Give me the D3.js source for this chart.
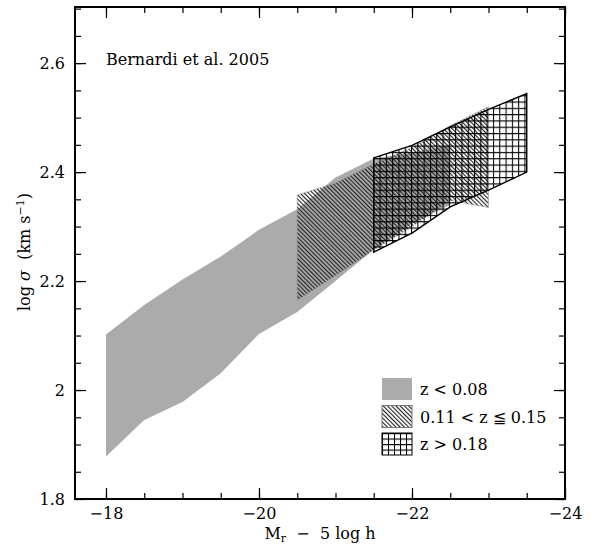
<!DOCTYPE html>
<html>
<head>
<meta charset="utf-8">
<script src="https://cdn.jsdelivr.net/npm/d3@7"></script>
<style>
  body { margin: 0; background: #fff; }
  text { font-family: "DejaVu Serif", serif; fill: #000; }
</style>
</head>
<body>
<div id="chart"></div>
<script>
/************************************************************
 * DATA
 ************************************************************/
// z < 0.08 band
var lowZMag   = [-18, -18.5, -19, -19.5, -20, -20.5, -21, -21.5, -22, -22.5];
var lowZUpper = [2.102, 2.156, 2.203, 2.245, 2.294, 2.332, 2.39, 2.425, 2.435, 2.45];
var lowZLower = [1.878, 1.945, 1.978, 2.031, 2.103, 2.143, 2.2, 2.258, 2.305, 2.34];

// 0.11 < z <= 0.15 band
var midZMag   = [-20.5, -21, -21.5, -22, -22.5, -23];
var midZUpper = [2.358, 2.38, 2.415, 2.445, 2.485, 2.52];
var midZLower = [2.165, 2.21, 2.257, 2.3, 2.348, 2.335];

// z > 0.18 band
var highZMag   = [-21.5, -22, -22.5, -23, -23.5];
var highZUpper = [2.426, 2.449, 2.483, 2.515, 2.544];
var highZLower = [2.253, 2.288, 2.336, 2.367, 2.400];

var xMajorTicks = [-18, -20, -22, -24];
var yMajorTicks = [1.8, 2, 2.2, 2.4, 2.6];
var NB = "\u00a0";
var legendLabels = ["z" + NB + "<" + NB + "0.08", "0.11" + NB + "<" + NB + "z" + NB + "\u2266" + NB + "0.15", "z" + NB + ">" + NB + "0.18"];

/************************************************************
 * SETUP
 ************************************************************/
var width = 592, height = 544;
var margin = {top: 7, right: 27, bottom: 45, left: 75};
var plotW = width - margin.left - margin.right,
    plotH = height - margin.top - margin.bottom;

var svg = d3.select("#chart").append("svg")
    .attr("width", width)
    .attr("height", height);

var x = d3.scaleLinear().domain([-17.595, -24]).range([0, plotW]);
var y = d3.scaleLinear().domain([1.8, 2.703]).range([plotH, 0]);

var defs = svg.append("defs");

// diagonal hatch for the middle band
var hatch = defs.append("pattern")
    .attr("id", "hatch")
    .attr("patternUnits", "userSpaceOnUse")
    .attr("width", 3).attr("height", 3)
    .attr("patternTransform", "rotate(-45)");
hatch.append("line")
    .attr("x1", 0.5).attr("y1", 0).attr("x2", 0.5).attr("y2", 3)
    .attr("stroke", "#222").attr("stroke-width", 1.25);

// square grid for the high z band
var grid = defs.append("pattern")
    .attr("id", "grid")
    .attr("patternUnits", "userSpaceOnUse")
    .attr("width", 6.3).attr("height", 6.3)
    .attr("x", x(-21.5) - 0.5).attr("y", 0);
grid.append("path")
    .attr("d", "M0.5,0V6.3M0,0.5H6.3")
    .attr("stroke", "#000").attr("stroke-width", 1.1).attr("fill", "none");

// legend swatch grid, aligned to its own box
var gridLeg = defs.append("pattern")
    .attr("id", "gridLeg")
    .attr("patternUnits", "userSpaceOnUse")
    .attr("width", 6).attr("height", 5.5);
gridLeg.append("path")
    .attr("d", "M0.5,0V5.5M0,0.5H6")
    .attr("stroke", "#000").attr("stroke-width", 1.1).attr("fill", "none");

var g = svg.append("g")
    .attr("transform", "translate(" + [margin.left, margin.top] + ")");

/************************************************************
 * BANDS
 ************************************************************/
function band(mags, upper, lower) {
    var pts = mags.map(function(m, i) { return {m: m, hi: upper[i], lo: lower[i]}; });
    return d3.area()
        .x(function(d) { return x(d.m); })
        .y0(function(d) { return y(d.lo); })
        .y1(function(d) { return y(d.hi); })(pts);
}

g.append("path")
    .attr("d", band(lowZMag, lowZUpper, lowZLower))
    .attr("fill", "#ababab");

g.append("path")
    .attr("d", band(midZMag, midZUpper, midZLower))
    .attr("fill", "url(#hatch)")
    .attr("stroke", "#888").attr("stroke-width", 0.5);

g.append("path")
    .attr("d", band(highZMag, highZUpper, highZLower))
    .attr("fill", "url(#grid)")
    .attr("stroke", "#000").attr("stroke-width", 1.4);

/************************************************************
 * AXES (ticks point inward on all four sides)
 ************************************************************/
var xMinor = d3.range(-18, -24.01, -0.5);
var yMinor = d3.range(1.8, 2.701, 0.05);
var fmt = d3.format("~g");

function styleAxis(sel) {
    sel.select(".domain").remove();
    sel.selectAll("line").attr("stroke", "#000").attr("stroke-width", 1.2);
    sel.selectAll("text")
        .attr("font-family", "DejaVu Serif, serif")
        .attr("font-size", 16)
        .attr("fill", "#000");
}

// bottom
g.append("g").attr("transform", "translate(0," + plotH + ")")
    .call(d3.axisBottom(x).tickValues(xMinor).tickSize(-6).tickFormat(""))
    .call(styleAxis);
g.append("g").attr("transform", "translate(0," + plotH + ")")
    .call(d3.axisBottom(x).tickValues(xMajorTicks).tickSize(-11).tickPadding(9).tickFormat(fmt))
    .call(styleAxis);
// top
g.append("g")
    .call(d3.axisTop(x).tickValues(xMinor).tickSize(-6).tickFormat(""))
    .call(styleAxis);
g.append("g")
    .call(d3.axisTop(x).tickValues(xMajorTicks).tickSize(-11).tickFormat(""))
    .call(styleAxis);
// left
g.append("g")
    .call(d3.axisLeft(y).tickValues(yMinor).tickSize(-6).tickFormat(""))
    .call(styleAxis);
g.append("g")
    .call(d3.axisLeft(y).tickValues(yMajorTicks).tickSize(-11).tickPadding(10).tickFormat(fmt))
    .call(styleAxis);
// right
g.append("g").attr("transform", "translate(" + plotW + ",0)")
    .call(d3.axisRight(y).tickValues(yMinor).tickSize(-6).tickFormat(""))
    .call(styleAxis);
g.append("g").attr("transform", "translate(" + plotW + ",0)")
    .call(d3.axisRight(y).tickValues(yMajorTicks).tickSize(-11).tickFormat(""))
    .call(styleAxis);

// frame
g.append("rect")
    .attr("width", plotW).attr("height", plotH)
    .attr("fill", "none").attr("stroke", "#000").attr("stroke-width", 2);

/************************************************************
 * LABELS
 ************************************************************/
var xl = svg.append("text")
    .attr("x", margin.left + plotW / 2).attr("y", 539)
    .attr("text-anchor", "middle").attr("font-size", 16);
xl.append("tspan").text("M");
xl.append("tspan").attr("font-size", 11).attr("dy", 3).text("r");
xl.append("tspan").attr("dy", -3).text(NB + NB + "\u2212" + NB + NB + "5" + NB + "log" + NB + "h");

var yl = svg.append("text")
    .attr("transform", "translate(30," + (margin.top + plotH / 2 - 1) + ") rotate(-90)")
    .attr("text-anchor", "middle").attr("font-size", 16);
yl.append("tspan").text("log" + NB);
yl.append("tspan").attr("font-style", "italic").text("\u03c3");
yl.append("tspan").text(NB + NB + "(km" + NB + "s");
yl.append("tspan").attr("font-size", 11).attr("dy", -6).text("\u22121");
yl.append("tspan").attr("dy", 6).text(")");

svg.append("text")
    .attr("x", margin.left + x(-18)).attr("y", 65)
    .attr("font-size", 16)
    .text("Bernardi et al. 2005");

/************************************************************
 * LEGEND
 ************************************************************/
var legendFills = ["#ababab", "url(#hatch)", "url(#gridLeg)"];
var legend = svg.append("g").attr("transform", "translate(382,378)");
var rows = legend.selectAll(".row").data(legendLabels).enter()
    .append("g").attr("class", "row")
    .attr("transform", function(d, i) { return "translate(0," + (i * 27.5) + ")"; });
rows.append("rect")
    .attr("width", 30).attr("height", 22)
    .attr("fill", function(d, i) { return legendFills[i]; })
    .attr("stroke", function(d, i) { return i === 0 ? "none" : (i === 1 ? "#777" : "#000"); })
    .attr("stroke-width", 1);
rows.append("text")
    .attr("x", 38).attr("y", 17)
    .attr("font-size", 16)
    .text(function(d) { return d; });
</script>
</body>
</html>
